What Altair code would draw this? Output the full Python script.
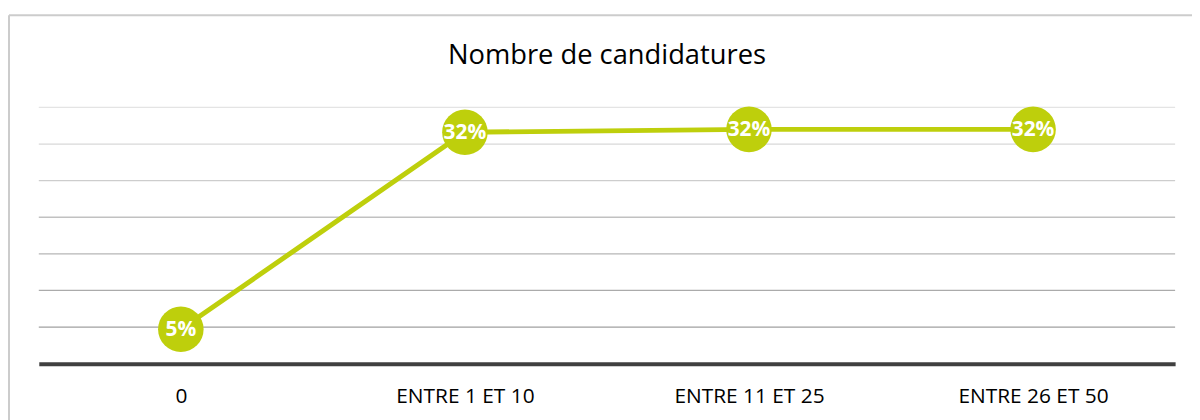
import altair as alt
import pandas as pd

categories = ["0", "ENTRE 1 ET 10", "ENTRE 11 ET 25", "ENTRE 26 ET 50"]
values = [0.047, 0.316, 0.32, 0.32]
grid_values = [0.05, 0.10, 0.15, 0.20, 0.25, 0.30, 0.35]

title_text = "Nombre de candidatures"
GREEN = "#BECF0C"
FONT = "Open Sans"

df = pd.DataFrame({"cat": categories, "val": values})
grid_df = pd.DataFrame({"g": grid_values})
one = pd.DataFrame({"t": [title_text]})

W, H = 1144, 258
xenc = alt.X("cat:O", sort=categories, title=None,
             scale=alt.Scale(type="point", padding=0.5),
             axis=alt.Axis(labelAngle=0, ticks=False, domainColor="#404040",
                           domainWidth=4, labelFontSize=21, labelFont=FONT,
                           labelColor="#000000", labelPadding=22, grid=False))
yscale = alt.Scale(domain=[0, 0.35], nice=False, zero=True)

grid = alt.Chart(grid_df).mark_rule(strokeWidth=1.3).encode(
    y=alt.Y("g:Q", scale=yscale, axis=None),
    color=alt.Color("g:Q", scale=alt.Scale(domain=[0.05, 0.35], range=["#a0a0a0", "#e4e4e4"]), legend=None),
)

line = alt.Chart(df).mark_line(color=GREEN, strokeWidth=5).encode(
    x=xenc, y=alt.Y("val:Q", scale=yscale, axis=None))
pts = alt.Chart(df).mark_circle(color=GREEN, size=2100, opacity=1).encode(
    x=alt.X("cat:O", sort=categories), y=alt.Y("val:Q", scale=yscale))
lbl = alt.Chart(df).mark_text(color="white", font=FONT, fontSize=21, fontWeight="bold",
                              baseline="middle", dy=1).encode(
    x=alt.X("cat:O", sort=categories), y=alt.Y("val:Q", scale=yscale),
    text=alt.Text("val:Q", format=".0%"))

title = alt.Chart(one).mark_text(font=FONT, fontSize=27.5, color="#000000",
                                 align="center", baseline="middle").encode(
    x=alt.value(W / 2), y=alt.value(-51.7), text="t:N")

border_left = alt.Chart(one).mark_rule(color="#cccccc", strokeWidth=2).encode(
    x=alt.value(-30), y=alt.value(-92.7), y2=alt.value(400))
border_top = alt.Chart(one).mark_rule(color="#cccccc", strokeWidth=2).encode(
    x=alt.value(-30), x2=alt.value(1200), y=alt.value(-92.7))

chart = alt.layer(border_left, border_top, title, grid, line, pts, lbl).properties(
    width=W, height=H,
    autosize=alt.AutoSizeParams(type="none"),
    padding={"left": 31, "top": 98.7, "right": 17, "bottom": 55},
).configure_view(stroke=None)

chart.save("out.html", embed_options={"renderer": "svg", "actions": False})
